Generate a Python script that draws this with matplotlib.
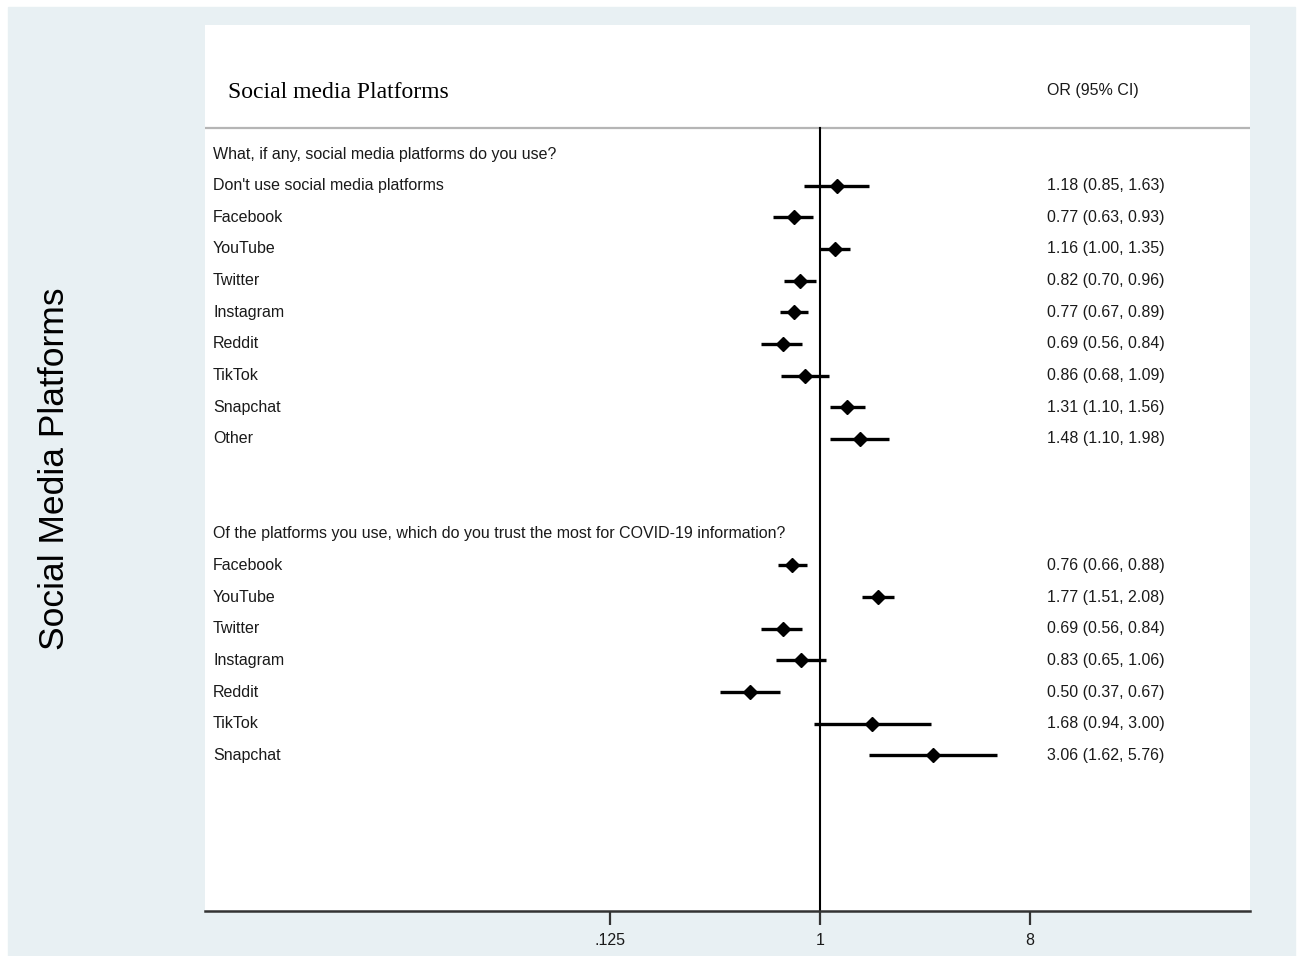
import numpy as np
import matplotlib.pyplot as plt
import matplotlib.transforms as mtransforms
from matplotlib.patches import Rectangle

# question 1: platforms used
q1_title = 'What, if any, social media platforms do you use?'
q1_labels = ["Don't use social media platforms", 'Facebook', 'YouTube', 'Twitter',
             'Instagram', 'Reddit', 'TikTok', 'Snapchat', 'Other']
q1_or = [1.18, 0.77, 1.16, 0.82, 0.77, 0.69, 0.86, 1.31, 1.48]
q1_lo = [0.85, 0.63, 1.00, 0.70, 0.67, 0.56, 0.68, 1.10, 1.10]
q1_hi = [1.63, 0.93, 1.35, 0.96, 0.89, 0.84, 1.09, 1.56, 1.98]

# question 2: most trusted platform for COVID-19 info
q2_title = 'Of the platforms you use, which do you trust the most for COVID-19 information?'
q2_labels = ['Facebook', 'YouTube', 'Twitter', 'Instagram', 'Reddit', 'TikTok', 'Snapchat']
q2_or = [0.76, 1.77, 0.69, 0.83, 0.50, 1.68, 3.06]
q2_lo = [0.66, 1.51, 0.56, 0.65, 0.37, 0.94, 1.62]
q2_hi = [0.88, 2.08, 0.84, 1.06, 0.67, 3.00, 5.76]

xticks = [0.125, 1, 8]
xtick_labels = ['.125', '1', '8']

sans = 'Liberation Sans'
txt_col = '#1a1a1a'
W, H = 1298, 956
fig = plt.figure(figsize=(W / 100, H / 100), dpi=100)
fig.patch.set_facecolor('white')
# light outer frame
fig.patches.append(Rectangle((8 / W, 0), (1295 - 8) / W, (H - 7) / H,
                             transform=fig.transFigure, color='#e8f0f3', zorder=-10))

ax = fig.add_axes([205 / W, (H - 911) / H, 1045 / W, (911 - 25) / H])
ax.set_facecolor('white')
ax.set_zorder(5)

# row layout: header at 0, rows follow, gap, second header at 12
q1_y = np.arange(1, len(q1_labels) + 1)
q2_y = np.arange(13, 13 + len(q2_labels))
rows_y = np.concatenate([q1_y, q2_y])
all_or = q1_or + q2_or
all_lo = q1_lo + q2_lo
all_hi = q1_hi + q2_hi
all_labels = q1_labels + q2_labels

step = 31.65
ax.set_ylim((911 - 154) / step, (25 - 154) / step)
ax.set_xscale('log', base=2)
ax.set_xlim(2 ** ((205 - 820) / 70), 2 ** ((1250 - 820) / 70))

sep_y = (128 - 154) / step
ax.axhline(sep_y, color='#b5b5b5', lw=1.6)
ax.plot([1, 1], [sep_y, ax.get_ylim()[0]], color='black', lw=1.5)

for y, o, lo, hi in zip(rows_y, all_or, all_lo, all_hi):
    ax.plot([lo, hi], [y, y], color='black', lw=2.4, solid_capstyle='butt')
    ax.plot(o, y, marker='D', color='black', markersize=7)

trans = mtransforms.blended_transform_factory(ax.transAxes, ax.transData)
fs = 11.5
ax.text(0.0077, 0, q1_title, transform=trans, va='center', fontsize=fs,
        family=sans, color=txt_col)
ax.text(0.0077, 12, q2_title, transform=trans, va='center', fontsize=fs,
        family=sans, color=txt_col)
for y, lab, o, lo, hi in zip(rows_y, all_labels, all_or, all_lo, all_hi):
    ax.text(0.0077, y, lab, transform=trans, va='center', fontsize=fs,
            family=sans, color=txt_col)
    ax.text(0.806, y, f'{o:.2f} ({lo:.2f}, {hi:.2f})', transform=trans,
            va='center', fontsize=fs, family=sans, color=txt_col)

ax.text(0.022, (92 - 154) / step, 'Social media Platforms', transform=trans,
        va='center', fontsize=17, family='Liberation Serif')
ax.text(0.806, (91 - 154) / step, 'OR (95% CI)', transform=trans,
        va='center', fontsize=fs, family=sans, color=txt_col)

fig.text(55 / W, (H - 469) / H, 'Social Media Platforms', rotation=90,
         ha='center', va='center', fontsize=25.5, family=sans)

for s in ['top', 'left', 'right']:
    ax.spines[s].set_visible(False)
ax.spines['bottom'].set_color('#333333')
ax.spines['bottom'].set_linewidth(1.8)
ax.set_yticks([])
ax.set_xticks(xticks)
ax.set_xticklabels(xtick_labels, fontsize=11.5, family=sans, color=txt_col)
ax.minorticks_off()
ax.tick_params(axis='x', length=10, width=1.6, color='#333333', pad=6)

fig.savefig('out.png', dpi=100)
